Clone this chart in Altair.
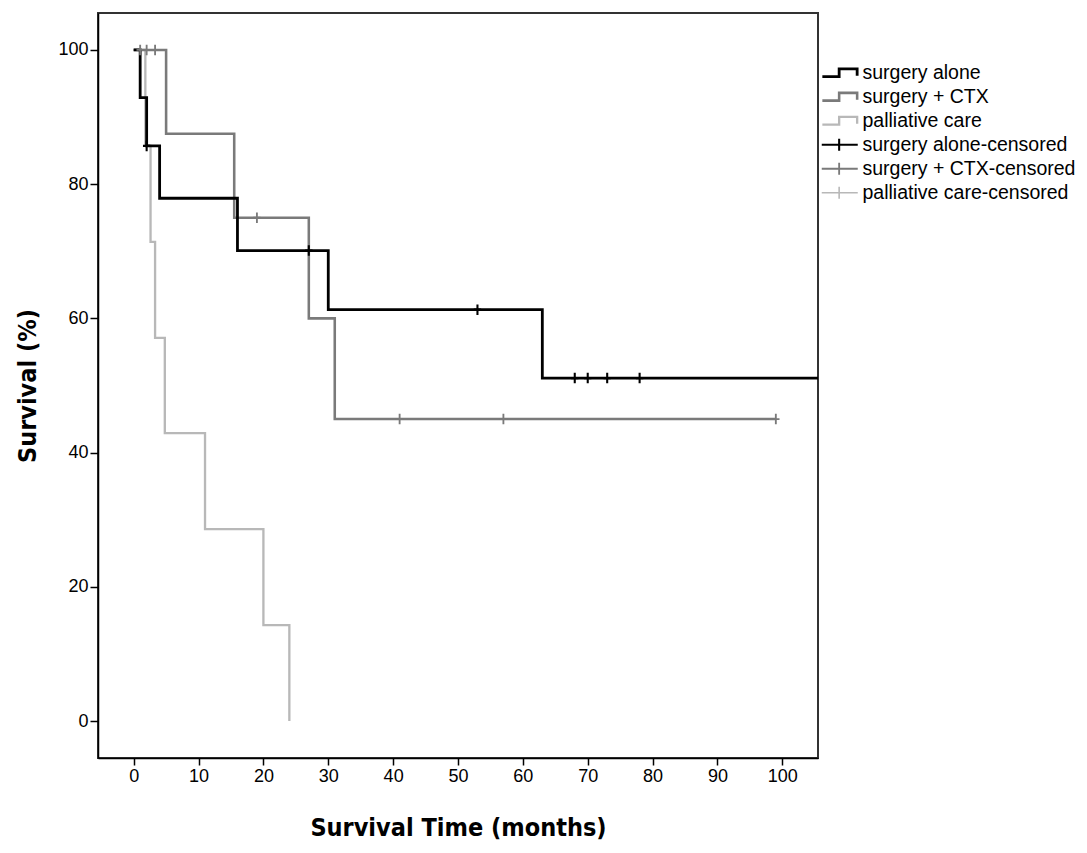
import altair as alt
import pandas as pd

# ---- data ----
series = ["surgery alone", "surgery + CTX", "palliative care"]
legend_labels = series + [s + "-censored" for s in series]
colors = ["#000000", "#7a7a7a", "#b8b8b8"]
widths = [2.8, 1.6, 1.6]

# Kaplan-Meier step curves (time in months, survival in %)
alone_t = [0, 1, 2, 4, 16, 30, 63, 110]
alone_s = [100, 92.9, 85.7, 77.9, 70.1, 61.3, 51.1, 51.1]
ctx_t = [0, 5, 15.5, 27, 31, 99]
ctx_s = [100, 87.5, 75.0, 60.0, 45.0, 45.0]
pal_t = [0, 1.8, 2.6, 3.3, 4.8, 11, 20, 24]
pal_s = [100, 85.7, 71.4, 57.1, 42.9, 28.6, 14.3, 0]

# censored observations
alone_cens_t = [2, 27, 53, 68, 70, 73, 78]
alone_cens_s = [85.7, 70.1, 61.3, 51.1, 51.1, 51.1, 51.1]
ctx_cens_t = [1, 2, 3.3, 19, 41, 57, 99]
ctx_cens_s = [100, 100, 100, 75, 45, 45, 45]

x_ticks = list(range(0, 101, 10))
y_ticks = list(range(0, 101, 20))

# ---- scales ----
x_scale = alt.Scale(domain=[-5.5, 105.5], nice=False, zero=False)
y_scale = alt.Scale(domain=[-5.5, 105.5], nice=False, zero=False)
color_scale = alt.Scale(domain=legend_labels, range=colors * 2)
sw_scale = alt.Scale(domain=legend_labels, range=widths * 2)
step_path = "M-2.9,0.65 H-0.1 V-0.65 H2.9 V0.5"
cross_path = "M-3,0 H3 M-0.1,-1.0 V1.0"
shape_scale = alt.Scale(domain=legend_labels, range=[step_path] * 3 + [cross_path] * 3)

FONT = "Liberation Sans"
TITLE_FONT = "DejaVu Sans Condensed, Liberation Sans"

x_axis = alt.Axis(values=x_ticks, tickSize=7, tickWidth=1.5, tickColor="black",
                  domainColor="black", domainWidth=1.5, grid=False,
                  labelFontSize=18, labelColor="black", labelFont=FONT, labelPadding=2,
                  title="Survival Time (months)", titleFontSize=25, titleFont=TITLE_FONT,
                  titleFontWeight="bold", titleColor="black", titlePadding=30)
y_axis = alt.Axis(values=y_ticks, tickSize=8, tickWidth=1.5, tickColor="black",
                  domainColor="black", domainWidth=1.5, grid=False,
                  labelFontSize=18, labelColor="black", labelFont=FONT, labelPadding=2,
                  title="Survival (%)", titleFontSize=25, titleFont=TITLE_FONT,
                  titleFontWeight="bold", titleColor="black", titlePadding=17)

legend = alt.Legend(title=None, orient="none", legendX=732, legendY=50,
                    symbolSize=144, labelFontSize=19.5, labelFont=FONT, labelColor="black",
                    labelOffset=13, rowPadding=3, padding=0, labelLimit=400)


def enc(chart, with_shape=False):
    e = dict(
        x=alt.X("t:Q", scale=x_scale, axis=x_axis),
        y=alt.Y("s:Q", scale=y_scale, axis=y_axis),
        color=alt.Color("label:N", scale=color_scale, legend=legend),
        strokeWidth=alt.StrokeWidth("label:N", scale=sw_scale, legend=legend),
    )
    if with_shape:
        e["shape"] = alt.Shape("label:N", scale=shape_scale, legend=legend)
    return chart.encode(**e)


# legend-only layer (no rows survive the filter; it only carries the legend)
legend_df = pd.DataFrame({"t": [0] * 6, "s": [0] * 6, "label": legend_labels})
legend_layer = enc(alt.Chart(legend_df).transform_filter("false").mark_point(
    filled=False, opacity=1), with_shape=True)


def line_layer(name, t, s):
    df = pd.DataFrame({"t": t, "s": s, "label": name})
    return enc(alt.Chart(df).mark_line(interpolate="step-after", clip=True))


lines = [
    line_layer(series[2], pal_t, pal_s),
    line_layer(series[1], ctx_t, ctx_s),
    line_layer(series[0], alone_t, alone_s),
]

cens_df = pd.concat([
    pd.DataFrame({"t": ctx_cens_t, "s": ctx_cens_s, "label": legend_labels[4]}),
    pd.DataFrame({"t": alone_cens_t, "s": alone_cens_s, "label": legend_labels[3]}),
])
censored = enc(alt.Chart(cens_df).mark_point(
    shape="M0,-1 V1 M-0.7,0 H0.7", size=110, filled=False, opacity=1, clip=True))

chart = alt.layer(legend_layer, *lines, censored).properties(
    width=720, height=745,
    autosize=alt.AutoSizeParams(type="none"),
    padding={"left": 90, "top": 5, "right": 261, "bottom": 87},
    background="white",
).configure_view(stroke="#333333", strokeWidth=2)

chart.save("out.html", embed_options={"renderer": "svg", "actions": False})
